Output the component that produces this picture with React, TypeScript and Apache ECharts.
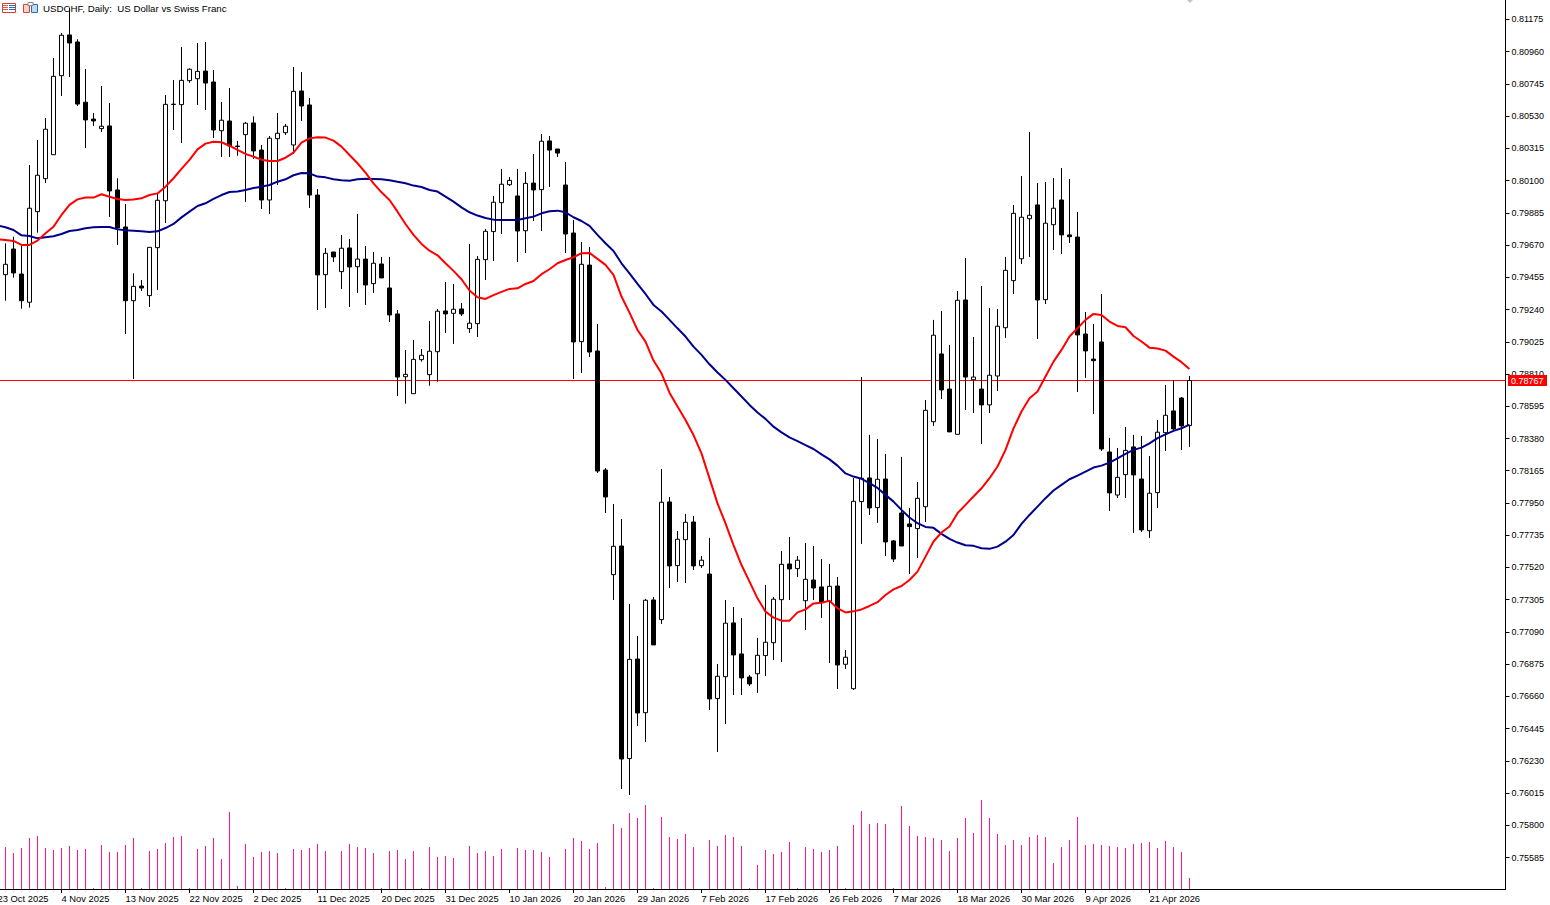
import React, { useEffect, useRef } from "react";
import * as echarts from "echarts";

// Prices are given in 1e-5 units (points); converted to real prices when the options are built.
const opens = [79473,79644,79477,79289,79893,80113,80273,80800,81072,81025,80623,80511,80447,80465,80038,79791,79299,79397,79333,79653,79966,80610,80607,80767,80780,80831,80758,80433,80498,80331,80407,80485,80304,79971,80380,80420,80338,80698,80605,80004,79473,79624,79493,79651,79526,79577,79413,79544,79384,79211,78792,78679,78906,78806,78959,79231,79215,79244,79113,79146,79573,79760,79953,80073,79998,79766,80084,80040,80365,80311,80071,79751,79026,79537,78964,78170,77472,77663,76245,76909,76551,77303,77172,77957,77532,77705,77823,77532,77476,76645,76791,77150,76943,76789,76811,76932,77018,77305,77543,77512,77298,77436,77390,77294,77396,76874,76711,77959,78117,77919,78110,77697,77883,77810,77779,77925,78492,78944,78710,78408,79304,78772,78710,78604,78797,79119,79433,79579,79846,79938,79306,79806,79971,79738,79724,79077,78910,79024,78290,78003,78139,78324,78110,77765,78019,78419,78564,78650,78466];
const closes = [79542,79484,79299,79916,80136,80443,80796,81070,81018,80611,80505,80498,80463,80031,79784,79299,79395,79384,79655,79969,80609,80608,80769,80843,80829,80751,80438,80503,80331,80328,80483,80298,79971,80383,80416,80463,80696,80598,80004,79471,79615,79591,79649,79524,79577,79404,79549,79451,79204,78790,78808,78908,78935,78962,79229,79211,79242,79211,79149,79575,79762,79956,80076,80102,79764,80082,80038,80363,80304,80284,79744,79024,79542,78957,78163,77990,77661,76242,76907,76549,77301,77003,77955,77530,77708,77821,77530,77568,76643,76794,77148,76936,76783,76743,76934,77021,77308,77541,77510,77568,77441,77383,77290,77394,76869,76921,77961,78115,77917,78108,77690,77576,77663,77792,77981,78568,79069,78704,78424,79302,78790,78790,78604,78802,79129,79502,79882,79856,79869,79304,79816,79916,79738,79726,79071,78964,78899,78310,78017,78121,78301,78137,77770,78015,78422,78535,78444,78464,78767];
const lows = [79299,79453,79246,79253,79753,80084,80273,80665,80791,80598,80318,80465,80425,79858,79671,79077,78777,79364,79257,79371,79818,80438,80351,80753,80605,80571,80385,80258,80258,80266,79958,80244,79911,79878,80071,80405,80278,80498,79918,79237,79251,79557,79377,79257,79351,79271,79351,79451,79157,78664,78612,78679,78893,78732,78759,79084,79011,79197,79084,79057,79437,79564,79744,80064,79557,79617,79831,79764,80058,80258,79617,78777,78817,78924,78150,77883,77303,76042,76002,76463,76356,77003,77143,77383,77423,77416,77503,77516,76569,76289,76476,76669,76669,76729,76683,76796,76903,76889,77303,77456,77103,77303,77183,76883,76709,76843,76703,77677,77870,77817,77596,77556,77663,77476,77583,77823,78464,78644,78424,78408,78570,78550,78344,78550,78697,79051,79344,79544,79591,79044,79277,79637,79611,79684,78690,78784,78544,78297,77897,77983,77983,77750,77757,77717,77917,78297,78437,78303,78324];
const highs = [79682,79726,79671,80204,80371,80518,80918,81085,81252,81043,80845,80551,80731,80618,80116,79944,79482,79437,79655,80018,80671,80771,80992,80849,81018,81025,80838,80625,80718,80365,80491,80529,80338,80398,80551,80478,80858,80825,80651,80044,79651,79624,79738,79711,79878,79664,79624,79591,79591,79237,78970,79037,78977,79164,79244,79424,79411,79284,79678,79597,79778,79998,80178,80124,80178,80158,80278,80411,80398,80311,80224,79838,79691,79658,79144,78183,77943,77843,77276,77063,77310,77323,78177,77990,77763,77877,77863,77596,77717,76876,77303,77256,77183,76803,77050,77403,77323,77630,77723,77596,77683,77663,77576,77543,77456,76969,78117,78790,78404,78377,78277,77703,78257,77917,78090,78637,79171,79231,79004,79364,79584,79057,79397,79251,79244,79591,79938,80131,80425,80084,80091,80118,80184,80111,79891,79224,79144,79344,78384,78317,78457,78404,78397,78263,78504,78737,78770,78657,78797];

// Moving averages; first value belongs to the off-screen slot of 23 Oct 2025.
const redMA = [79709,79704,79698,79671,79671,79700,79749,79793,79871,79938,79975,79987,79987,80009,79993,79978,79971,79975,79982,80004,80015,80060,80116,80178,80238,80309,80347,80360,80356,80333,80305,80278,80260,80240,80231,80231,80253,80287,80353,80382,80389,80387,80367,80327,80271,80216,80153,80082,80022,79971,79893,79811,79738,79678,79633,79602,79549,79498,79442,79367,79322,79311,79336,79358,79378,79382,79411,79431,79476,79509,79549,79571,79589,79616,79618,79578,79538,79471,79327,79220,79104,79026,78900,78815,78686,78593,78504,78403,78281,78114,77947,77814,77669,77536,77425,77314,77225,77185,77165,77165,77220,77240,77280,77285,77298,77247,77220,77227,77240,77263,77288,77336,77374,77396,77436,77492,77592,77693,77753,77793,77882,77937,77993,78048,78115,78193,78304,78448,78560,78649,78693,78793,78893,78971,79060,79115,79171,79211,79204,79160,79131,79122,79064,79027,78986,78980,78966,78926,78889,78844];
const navyMA = [79802,79789,79771,79735,79731,79715,79722,79729,79744,79764,79771,79782,79789,79791,79791,79775,79769,79766,79762,79758,79762,79784,79811,79855,79893,79931,79949,79978,80004,80024,80027,80038,80051,80060,80071,80093,80109,80136,80151,80149,80127,80122,80109,80102,80100,80109,80113,80111,80109,80102,80092,80083,80067,80058,80038,80027,79994,79960,79922,79889,79867,79851,79840,79838,79838,79838,79849,79860,79882,79896,79900,79889,79856,79831,79798,79738,79682,79631,79549,79482,79411,79344,79271,79227,79171,79115,79060,78993,78938,78875,78820,78771,78715,78660,78604,78553,78511,78459,78421,78387,78363,78336,78310,78274,78241,78199,78147,78126,78111,78082,78050,78004,77959,77904,77853,77815,77790,77784,77744,77710,77686,77668,77664,77648,77644,77659,77692,77737,77810,77870,77926,77982,78033,78071,78108,78133,78159,78186,78199,78219,78248,78277,78304,78319,78348,78382,78408,78431,78448,78473];

const volumes = [42,36,41,51,53,41,39,41,43,39,40,1,44,37,37,44,51,1,38,40,46,52,53,1,40,43,51,30,77,3,45,32,37,38,36,1,40,39,41,45,38,0,38,45,42,41,36,1,38,39,30,38,1,42,32,33,31,0,43,36,38,33,40,0,41,39,39,37,32,0,40,51,48,40,46,2,65,61,76,71,84,1,72,52,50,55,42,0,49,43,54,52,43,1,24,39,35,37,47,1,42,40,37,39,43,1,64,78,65,66,65,1,83,63,53,52,51,49,38,51,71,56,89,71,55,44,49,44,52,54,52,26,42,49,72,44,45,44,43,42,41,45,46,47,41,48,42,37,11];

const timeLabels = ["23 Oct 2025","4 Nov 2025","13 Nov 2025","22 Nov 2025","2 Dec 2025","11 Dec 2025","20 Dec 2025","31 Dec 2025","10 Jan 2026","20 Jan 2026","29 Jan 2026","7 Feb 2026","17 Feb 2026","26 Feb 2026","7 Mar 2026","18 Mar 2026","30 Mar 2026","9 Apr 2026","21 Apr 2026"];
const priceTicks = [0.81175,0.8096,0.80745,0.8053,0.80315,0.801,0.79885,0.7967,0.79455,0.7924,0.79025,0.7881,0.78595,0.7838,0.78165,0.7795,0.77735,0.7752,0.77305,0.7709,0.76875,0.7666,0.76445,0.7623,0.76015,0.758,0.75585];
const lastPrice = 0.78767;
const TITLE = "USDCHF, Daily:  US Dollar vs Swiss Franc";

const SLOTS = 189;
const LABEL_STEP = 8;
const FONT = "'Liberation Sans', Arial, sans-serif";
const px = (v: number) => v / 100000;

const categories = Array.from({ length: SLOTS }, (_, k) =>
  k % LABEL_STEP === 0 && timeLabels[k / LABEL_STEP] ? timeLabels[k / LABEL_STEP] : ""
);
const isLabelled = (k: number) => k % LABEL_STEP === 0 && k / LABEL_STEP < timeLabels.length;
const candleData: any[] = ["-", ...opens.map((o, i) => [px(o), px(closes[i]), px(lows[i]), px(highs[i])])];

function renderPriceLine(params: any, api: any) {
  const y = Math.round(api.coord([0, api.value(1)])[1]) + 0.5;
  const cs = params.coordSys;
  return { type: "line", shape: { x1: 0, y1: y, x2: cs.x + cs.width, y2: y }, style: { stroke: "#ff0000", lineWidth: 1 } };
}

function renderPriceTag(_params: any, api: any) {
  const y = Math.round(api.coord([0, api.value(1)])[1]) + 0.5;
  return {
    type: "group",
    children: [
      { type: "rect", shape: { x: 1508, y: y - 5.5, width: 39, height: 11 }, style: { fill: "#ff0000" } },
      {
        type: "text",
        x: 1511,
        y,
        style: { text: lastPrice.toFixed(5), fill: "#ffffff", font: `9px ${FONT}`, verticalAlign: "middle", align: "left" },
      },
    ],
  };
}

function buildOption(): any {
  const gridLeft = -6.5;
  const gridWidth = 1512;
  return {
    animation: false,
    backgroundColor: "#ffffff",
    tooltip: { show: false },
    grid: [
      { left: gridLeft, width: gridWidth, top: 0, height: 889, containLabel: false, outerBoundsMode: "none" },
      { left: gridLeft, width: gridWidth, top: 789, height: 100, containLabel: false, outerBoundsMode: "none" },
    ],
    xAxis: [
      { type: "category", gridIndex: 0, data: categories, show: false, boundaryGap: true },
      {
        type: "category",
        gridIndex: 1,
        data: categories,
        boundaryGap: true,
        position: "bottom",
        axisLine: { show: true, lineStyle: { color: "#000", width: 1 } },
        axisTick: { show: true, alignWithLabel: true, length: 4, interval: (k: number) => isLabelled(k), lineStyle: { color: "#000" } },
        axisLabel: {
          show: true,
          interval: (k: number) => isLabelled(k),
          align: "left",
          margin: 5,
          color: "#000",
          fontFamily: FONT,
          fontSize: 9.4,
          hideOverlap: false,
        },
        splitLine: { show: false },
      },
    ],
    yAxis: [
      {
        type: "value",
        gridIndex: 0,
        position: "right",
        min: 0.75375,
        max: 0.81305,
        scale: true,
        axisLine: { show: true, lineStyle: { color: "#000", width: 1 } },
        axisTick: { show: true, length: 4, customValues: priceTicks, lineStyle: { color: "#000" } },
        axisLabel: {
          show: true,
          customValues: priceTicks,
          formatter: (v: number) => v.toFixed(5),
          margin: 6,
          color: "#000",
          fontFamily: FONT,
          fontSize: 9,
        },
        splitLine: { show: false },
      },
      { type: "value", gridIndex: 1, min: 0, max: 100, show: false, splitLine: { show: false } },
    ],
    series: [
      {
        type: "custom",
        name: "Last price line",
        xAxisIndex: 0,
        yAxisIndex: 0,
        data: [[0, lastPrice]],
        clip: false,
        silent: true,
        z: 1,
        renderItem: renderPriceLine,
      },
      {
        type: "bar",
        name: "Volume",
        xAxisIndex: 1,
        yAxisIndex: 1,
        barWidth: 1,
        data: ["-", ...volumes],
        itemStyle: { color: "#FF1493" },
        silent: true,
      },
      {
        type: "candlestick",
        name: "USDCHF",
        xAxisIndex: 0,
        yAxisIndex: 0,
        barWidth: 5,
        data: candleData,
        itemStyle: { color: "#ffffff", color0: "#000000", borderColor: "#000000", borderColor0: "#000000", borderWidth: 1 },
        silent: true,
        z: 2,
      },
      {
        type: "line",
        name: "MA navy",
        xAxisIndex: 0,
        yAxisIndex: 0,
        data: navyMA.map(px),
        showSymbol: false,
        symbol: "none",
        lineStyle: { color: "#00008B", width: 2 },
        silent: true,
        z: 4,
      },
      {
        type: "line",
        name: "MA red",
        xAxisIndex: 0,
        yAxisIndex: 0,
        data: redMA.map(px),
        showSymbol: false,
        symbol: "none",
        lineStyle: { color: "#ff0000", width: 2 },
        silent: true,
        z: 4,
      },
      {
        type: "custom",
        name: "Last price tag",
        xAxisIndex: 0,
        yAxisIndex: 0,
        data: [[0, lastPrice]],
        clip: false,
        silent: true,
        z: 6,
        renderItem: renderPriceTag,
      },
    ],
    graphic: [
      // table icon
      { type: "rect", shape: { x: 2.5, y: 3.5, width: 13, height: 9 }, style: { fill: "#fff", stroke: "#d9402f", lineWidth: 1 }, silent: true, z: 10 },
      { type: "rect", shape: { x: 3, y: 5, width: 5, height: 1 }, style: { fill: "#e0604f" }, silent: true, z: 10 },
      { type: "rect", shape: { x: 3, y: 7, width: 5, height: 1 }, style: { fill: "#e0604f" }, silent: true, z: 10 },
      { type: "rect", shape: { x: 3, y: 9, width: 5, height: 1 }, style: { fill: "#e0604f" }, silent: true, z: 10 },
      { type: "rect", shape: { x: 9, y: 5, width: 6, height: 1 }, style: { fill: "#2a6fb5" }, silent: true, z: 10 },
      { type: "rect", shape: { x: 9, y: 7, width: 6, height: 1 }, style: { fill: "#2a6fb5" }, silent: true, z: 10 },
      { type: "rect", shape: { x: 9, y: 9, width: 6, height: 1 }, style: { fill: "#2a6fb5" }, silent: true, z: 10 },
      // layout icon
      { type: "rect", shape: { x: 23.5, y: 4.5, width: 6, height: 8 }, style: { fill: "#f9d2cc", stroke: "#d9402f", lineWidth: 1 }, silent: true, z: 10 },
      { type: "rect", shape: { x: 31.5, y: 4.5, width: 6, height: 8 }, style: { fill: "#bcdcf3", stroke: "#2a6fb5", lineWidth: 1 }, silent: true, z: 10 },
      { type: "rect", shape: { x: 28, y: 2.5, width: 5, height: 3 }, style: { fill: "#fff", stroke: "#888", lineWidth: 1 }, silent: true, z: 10 },
      // title
      { type: "text", x: 43, y: 3, silent: true, z: 11, style: { text: TITLE, fill: "#000", font: `9.7px ${FONT}` } },
      // shift marker at the top edge
      { type: "polygon", shape: { points: [[1187, 0], [1193, 0], [1190, 3]] }, style: { fill: "#c4c4c4" }, silent: true, z: 10 },
    ],
  };
}

export default function App() {
  const ref = useRef<HTMLDivElement>(null);
  useEffect(() => {
    document.body.style.margin = "0";
    const chart = echarts.init(ref.current as HTMLDivElement, undefined, { renderer: "svg" });
    chart.setOption(buildOption());
    return () => chart.dispose();
  }, []);
  return <div ref={ref} style={{ width: 1550, height: 905, overflow: "hidden" }} />;
}
